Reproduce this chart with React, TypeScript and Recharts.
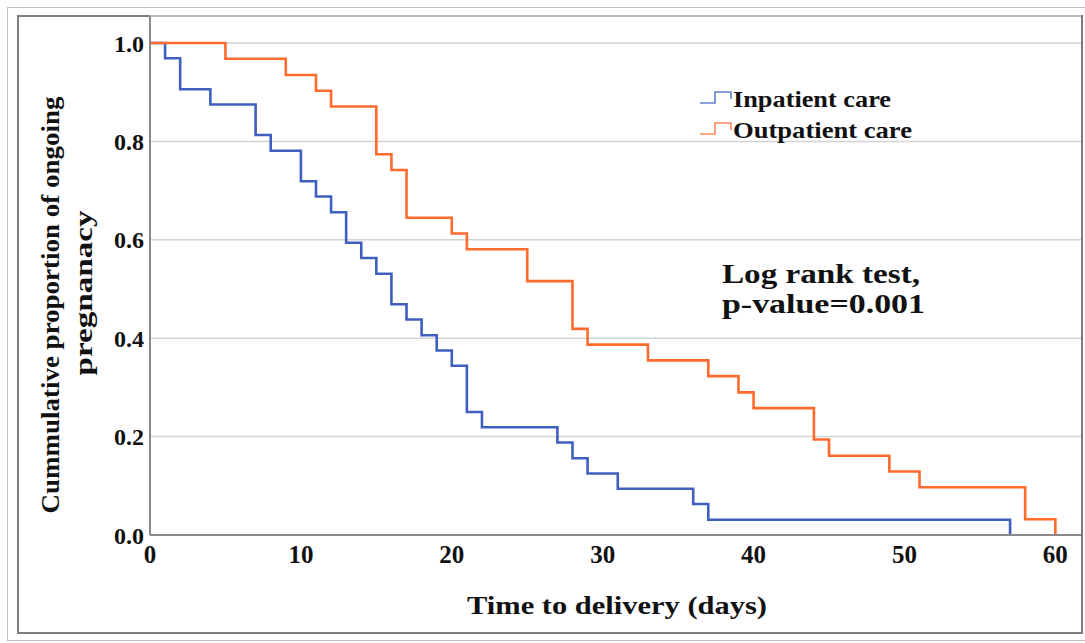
import React from "react";
import {
  LineChart,
  Line,
  XAxis,
  YAxis,
  CartesianGrid,
  Legend,
  Customized,
} from "recharts";

// Kaplan-Meier steps
const inpatientDays = [0, 1, 2, 4, 7, 8, 10, 11, 12, 13, 14, 15, 16, 17, 18, 19, 20, 21, 22, 27, 28, 29, 31, 36, 37, 57];
const inpatientSurv = [1.0, 0.969, 0.906, 0.875, 0.813, 0.781, 0.719, 0.688, 0.656, 0.594, 0.563, 0.531, 0.469, 0.438, 0.406, 0.375, 0.344, 0.25, 0.219, 0.188, 0.156, 0.125, 0.094, 0.063, 0.031, 0];

const outpatientDays = [0, 5, 9, 11, 12, 15, 16, 17, 20, 21, 25, 28, 29, 33, 37, 39, 40, 44, 45, 49, 51, 58, 60];
const outpatientSurv = [1.0, 0.968, 0.935, 0.903, 0.871, 0.774, 0.742, 0.645, 0.613, 0.581, 0.516, 0.419, 0.387, 0.355, 0.323, 0.29, 0.258, 0.194, 0.161, 0.129, 0.097, 0.032, 0];

const xTicks = [0, 10, 20, 30, 40, 50, 60];
const yTicks = [0, 0.2, 0.4, 0.6, 0.8, 1.0];

const BLUE = "#3f5fbf";
const ORANGE = "#ff6b2c";
const FONT = '"Liberation Serif", "Times New Roman", serif';

const series = [
  { name: "Inpatient care", color: BLUE, days: inpatientDays, surv: inpatientSurv, len: 158 },
  { name: "Outpatient care", color: ORANGE, days: outpatientDays, surv: outpatientSurv, len: 179 },
];

const toRows = (days: number[], surv: number[]) =>
  days.map((t, i) => ({ t, s: surv[i] }));

// legend drawn as svg so the text can be stretched like the original
function LegendBox() {
  return (
    <svg width={260} height={62} style={{ display: "block" }}>
      {series.map((s, i) => {
        const y0 = i * 31;
        return (
          <g key={s.name}>
            <path
              d={`M0 ${y0 + 18} H15 V${y0 + 7} H31 V${y0 + 14}`}
              fill="none"
              stroke={s.color}
              strokeWidth={1.6}
              opacity={0.8}
            />
            <text
              x={33}
              y={y0 + 22}
              fontFamily={FONT}
              fontWeight="bold"
              fontSize={23}
              fill="#111"
              textLength={s.len}
              lengthAdjust="spacingAndGlyphs"
            >
              {s.name}
            </text>
          </g>
        );
      })}
    </svg>
  );
}

function Annotations() {
  return (
    <g fontFamily={FONT} fontWeight="bold" fill="#111">
      <text
        x={59}
        y={305}
        fontSize={25}
        textAnchor="middle"
        transform="rotate(-90 59 305)"
        textLength={417}
        lengthAdjust="spacingAndGlyphs"
      >
        Cummulative proportion of ongoing
      </text>
      <text
        x={92}
        y={293}
        fontSize={25}
        textAnchor="middle"
        transform="rotate(-90 92 293)"
        textLength={165}
        lengthAdjust="spacingAndGlyphs"
      >
        pregnanacy
      </text>
      <text x={617} y={614} fontSize={26} textAnchor="middle" textLength={300} lengthAdjust="spacingAndGlyphs">
        Time to delivery (days)
      </text>
      <text x={722} y={283} fontSize={27} textLength={198} lengthAdjust="spacingAndGlyphs">
        Log rank test,
      </text>
      <text x={722} y={313} fontSize={27} textLength={203} lengthAdjust="spacingAndGlyphs">
        p-value=0.001
      </text>
    </g>
  );
}

export default function App() {
  return (
    <div style={{ position: "absolute", left: 0, top: 0, width: 1085, height: 643, background: "#fff" }}>
      {/* outer light frame */}
      <div
        style={{
          position: "absolute",
          left: 7,
          top: 7,
          width: 1090,
          height: 632,
          borderLeft: "1.5px solid #c4c4c4",
          borderTop: "1.5px solid #c4c4c4",
          borderBottom: "1.5px solid #c4c4c4",
        }}
      />
      {/* inner dark frame */}
      <div
        style={{
          position: "absolute",
          left: 17,
          top: 15,
          width: 1062,
          height: 615,
          border: "2px solid #7d7d7d",
        }}
      />
      <div style={{ position: "absolute", left: 0, top: 0 }}>
        <LineChart width={1085} height={643} margin={{ top: 16, right: 4, left: 0, bottom: 0 }}>
          <CartesianGrid vertical={false} stroke="#d2d2d2" strokeWidth={1.5} />
          <XAxis
            type="number"
            dataKey="t"
            domain={[0, 61.7]}
            ticks={xTicks}
            allowDataOverflow
            height={108}
            tickSize={0}
            tickMargin={10}
            axisLine={{ stroke: "#8a8a8a", strokeWidth: 2 }}
            tick={{ fill: "#111", fontSize: 25, fontWeight: "bold", fontFamily: FONT }}
          />
          <YAxis
            type="number"
            domain={[0, 1.055]}
            ticks={yTicks}
            allowDataOverflow
            width={150}
            tickSize={0}
            tickMargin={6}
            tickFormatter={(v: number) => v.toFixed(1)}
            axisLine={{ stroke: "#8a8a8a", strokeWidth: 2 }}
            tick={{ fill: "#111", fontSize: 24, fontWeight: "bold", fontFamily: FONT }}
          />
          {series.map((s) => (
            <Line
              key={s.name}
              name={s.name}
              data={toRows(s.days, s.surv)}
              dataKey="s"
              type="stepAfter"
              stroke={s.color}
              strokeWidth={2.6}
              dot={false}
              isAnimationActive={false}
            />
          ))}
          <Legend
            layout="vertical"
            align="center"
            verticalAlign="middle"
            content={() => <LegendBox />}
            wrapperStyle={{ left: 700, top: 85, width: 260, height: 62 }}
          />
          <Customized component={Annotations} />
        </LineChart>
      </div>
    </div>
  );
}
